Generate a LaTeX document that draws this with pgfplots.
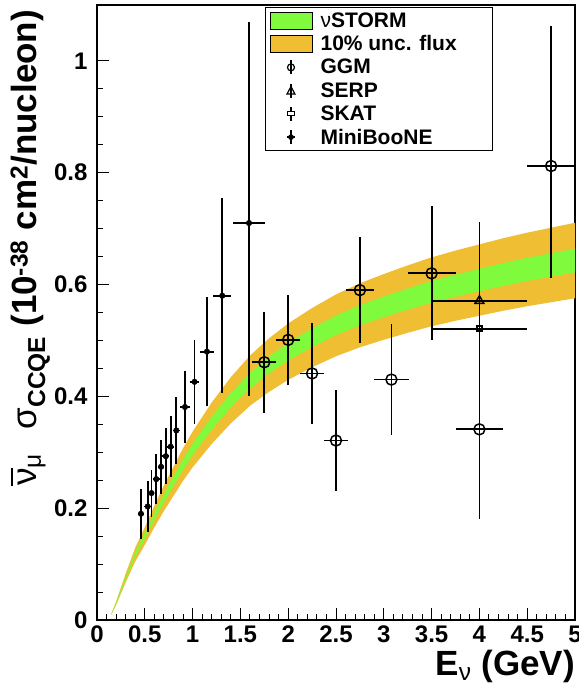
\documentclass[border=0pt]{standalone}
\usepackage{pgfplots}
\pgfplotsset{compat=1.18}
\usepackage{pgfplotstable}
\usepackage{fontspec}
\setmainfont{Liberation Sans}
\definecolor{bandgreen}{RGB}{128,250,60}
\definecolor{bandorange}{RGB}{240,190,50}

\pgfplotstableread{
x y ex eyp eym
0.46 0.190 0.035 0.045 0.045
0.53 0.203 0.035 0.045 0.045
0.57 0.227 0.030 0.042 0.042
0.62 0.252 0.035 0.045 0.045
0.67 0.274 0.035 0.048 0.048
0.72 0.293 0.035 0.050 0.050
0.77 0.310 0.035 0.055 0.055
0.83 0.339 0.040 0.060 0.060
0.92 0.381 0.050 0.065 0.065
1.02 0.426 0.050 0.075 0.075
1.15 0.480 0.070 0.097 0.097
1.31 0.580 0.095 0.174 0.174
1.59 0.710 0.170 0.360 0.310
}\miniboone

\pgfplotstableread{
x y ex eyp eym
1.75 0.461 0.125 0.090 0.090
2.00 0.501 0.125 0.080 0.080
2.25 0.441 0.125 0.090 0.090
2.50 0.321 0.125 0.090 0.090
2.75 0.590 0.150 0.095 0.095
3.08 0.430 0.180 0.100 0.100
3.50 0.620 0.250 0.120 0.120
4.00 0.341 0.250 0.160 0.160
4.75 0.812 0.250 0.250 0.200
}\ggm

\pgfplotstableread{
x y ex eyp eym
4.00 0.571 0.50 0.14 0.14
}\serp

\pgfplotstableread{
x y ex eyp eym
4.00 0.521 0.50 0.19 0.19
}\skat

\begin{document}
\begin{tikzpicture}
\begin{axis}[
  scale only axis, width=478pt, height=615pt,
  xmin=0, xmax=5, ymin=0, ymax=1.1,
  xtick={0,0.5,1,1.5,2,2.5,3,3.5,4,4.5,5},
  ytick={0,0.2,0.4,0.6,0.8,1},
  minor x tick num=4, minor y tick num=3,
  tick pos=left, tick align=inside,
  major tick length=12pt, minor tick length=6pt,
  every tick/.style={black, line width=1pt},
  axis line style={line width=1.2pt},
  ticklabel style={font=\bfseries\fontsize{24}{24}\selectfont},
  xticklabel style={yshift=-2pt},
  yticklabel style={xshift=-6pt},
  /pgf/number format/assume math mode=true,
  xlabel={E\textsubscript{\mdseries ν} (GeV)},
  xlabel style={font=\bfseries\fontsize{35}{35}\selectfont, at={(axis description cs:1,-0.049)}, anchor=north east, inner sep=0pt},
  ylabel={{\mdseries\rlap{\rule[0.66em]{0.5em}{0.06em}}ν}\textsubscript{\mdseries μ}\hspace{0.7em}{\mdseries σ}\textsubscript{CCQE} (10\textsuperscript{-38} cm\textsuperscript{2}/nucleon)},
  ylabel style={font=\bfseries\fontsize{35}{35}\selectfont, at={(axis description cs:-0.098,0.992)}, anchor=south east, inner sep=0pt},
  legend style={at={(axis description cs:0.351,0.997)}, anchor=north west,
    draw=black, line width=1.2pt, fill=white,
    font=\bfseries\fontsize{21}{24}\selectfont,
    inner xsep=4pt, inner ysep=3pt, row sep=3pt,
    /tikz/every odd column/.append style={column sep=6pt}},
  legend cell align=left,
  error bars/error bar style={line width=1.8pt, black},
  error bars/error mark=none,
]
\addlegendimage{legend image code/.code={\draw[fill=bandgreen,draw=black,line width=0.8pt] (0pt,-8.5pt) rectangle (42pt,8.5pt);}}
\addlegendentry{\makebox[166pt][l]{{\mdseries ν}STORM}}
\addlegendimage{legend image code/.code={\draw[fill=bandorange,draw=black,line width=0.8pt] (0pt,-8.5pt) rectangle (42pt,8.5pt);}}
\addlegendentry{10\% unc. flux}
\addlegendimage{legend image code/.code={\draw[line width=1.2pt] (21pt,-7pt)--(21pt,7pt); \draw[line width=1.2pt] (21pt,0pt) circle (3.5pt); \path (0pt,0pt) (42pt,0pt);}}
\addlegendentry{GGM}
\addlegendimage{legend image code/.code={\draw[line width=1.2pt] (21pt,-7pt)--(21pt,7pt); \draw[line width=1.2pt] (17pt,-3.5pt)--(25pt,-3.5pt)--(21pt,4pt)--cycle; \path (0pt,0pt) (42pt,0pt);}}
\addlegendentry{SERP}
\addlegendimage{legend image code/.code={\draw[line width=1.5pt] (21pt,-7pt)--(21pt,7pt); \draw[line width=1.2pt,fill=white] (17.5pt,-2pt) rectangle (24.5pt,2pt); \path (0pt,0pt) (42pt,0pt);}}
\addlegendentry{SKAT}
\addlegendimage{legend image code/.code={\draw[line width=2pt] (21pt,-7pt)--(21pt,7pt); \draw[line width=2pt] (17pt,0pt)--(25pt,0pt); \fill (21pt,0pt) circle (2.2pt); \path (0pt,0pt) (42pt,0pt);}}
\addlegendentry{MiniBooNE}

% 10% flux uncertainty band
\addplot[fill=bandorange, draw=none, forget plot] coordinates {
(0.15,0.0111)(0.2,0.0332)(0.3,0.0829)(0.4,0.1293)(0.5,0.1658)(0.6,0.2044)(0.7,0.2409)(0.8,0.2740)(0.9,0.3072)(1.0,0.3370)(1.2,0.3890)(1.4,0.4343)(1.6,0.4729)(1.8,0.5039)(2.0,0.5304)(2.25,0.5580)(2.5,0.5823)(2.75,0.6022)(3.0,0.6188)(3.25,0.6343)(3.5,0.6486)(3.75,0.6608)(4.0,0.6718)(4.25,0.6829)(4.5,0.6928)(4.75,0.7017)(5.0,0.7105)
(5.0,0.5755)(4.75,0.5683)(4.5,0.5612)(4.25,0.5531)(4.0,0.5442)(3.75,0.5352)(3.5,0.5254)(3.25,0.5137)(3.0,0.5012)(2.75,0.4878)(2.5,0.4717)(2.25,0.4520)(2.0,0.4296)(1.8,0.4081)(1.6,0.3831)(1.4,0.3517)(1.2,0.3150)(1.0,0.2730)(0.9,0.2488)(0.8,0.2220)(0.7,0.1951)(0.6,0.1656)(0.5,0.1343)(0.4,0.1047)(0.3,0.0671)(0.2,0.0269)(0.15,0.0090)
};
% nuSTORM band
\addplot[fill=bandgreen, draw=none, forget plot] coordinates {
(0.15,0.0103)(0.2,0.031)(0.3,0.0775)(0.4,0.1209)(0.5,0.1550)(0.6,0.1911)(0.7,0.2252)(0.8,0.2562)(0.9,0.2872)(1.0,0.3151)(1.2,0.3636)(1.4,0.4060)(1.6,0.4421)(1.8,0.4710)(2.0,0.4958)(2.25,0.5217)(2.5,0.5444)(2.75,0.5630)(3.0,0.5785)(3.25,0.5929)(3.5,0.6064)(3.75,0.6177)(4.0,0.6281)(4.25,0.6384)(4.5,0.6477)(4.75,0.6560)(5.0,0.6642)
(5.0,0.6218)(4.75,0.6140)(4.5,0.6063)(4.25,0.5976)(4.0,0.5879)(3.75,0.5783)(3.5,0.5676)(3.25,0.5551)(3.0,0.5415)(2.75,0.5270)(2.5,0.5096)(2.25,0.4883)(2.0,0.4642)(1.8,0.4410)(1.6,0.4139)(1.4,0.3800)(1.2,0.3404)(1.0,0.2949)(0.9,0.2688)(0.8,0.2398)(0.7,0.2108)(0.6,0.1789)(0.5,0.1451)(0.4,0.1131)(0.3,0.0725)(0.2,0.029)(0.15,0.0097)
};

% data
\addplot[only marks, mark=*, mark size=2.8pt, black, forget plot,
  error bars/.cd, x dir=both, x explicit, y dir=both, y explicit]
  table[x=x, y=y, x error=ex, y error plus=eyp, y error minus=eym] {\miniboone};
\addplot[only marks, mark=o, mark size=5.5pt, black, line width=1.5pt, forget plot,
  error bars/.cd, x dir=both, x explicit, y dir=both, y explicit]
  table[x=x, y=y, x error=ex, y error plus=eyp, y error minus=eym] {\ggm};
\addplot[only marks, mark=triangle, mark size=5pt, black, line width=1.5pt, forget plot,
  error bars/.cd, x dir=both, x explicit, y dir=both, y explicit]
  table[x=x, y=y, x error=ex, y error plus=eyp, y error minus=eym] {\serp};
\addplot[only marks, mark=square, mark size=2.5pt, black, line width=1.5pt, forget plot,
  error bars/.cd, x dir=both, x explicit, y dir=both, y explicit]
  table[x=x, y=y, x error=ex, y error plus=eyp, y error minus=eym] {\skat};

\coordinate (bl) at (rel axis cs:0,0);
\coordinate (tr) at (rel axis cs:1,1);
\end{axis}
\pgfresetboundingbox
\path ([shift={(-97pt,-75pt)}]bl) rectangle ([shift={(3pt,5pt)}]tr);
\end{tikzpicture}
\end{document}
